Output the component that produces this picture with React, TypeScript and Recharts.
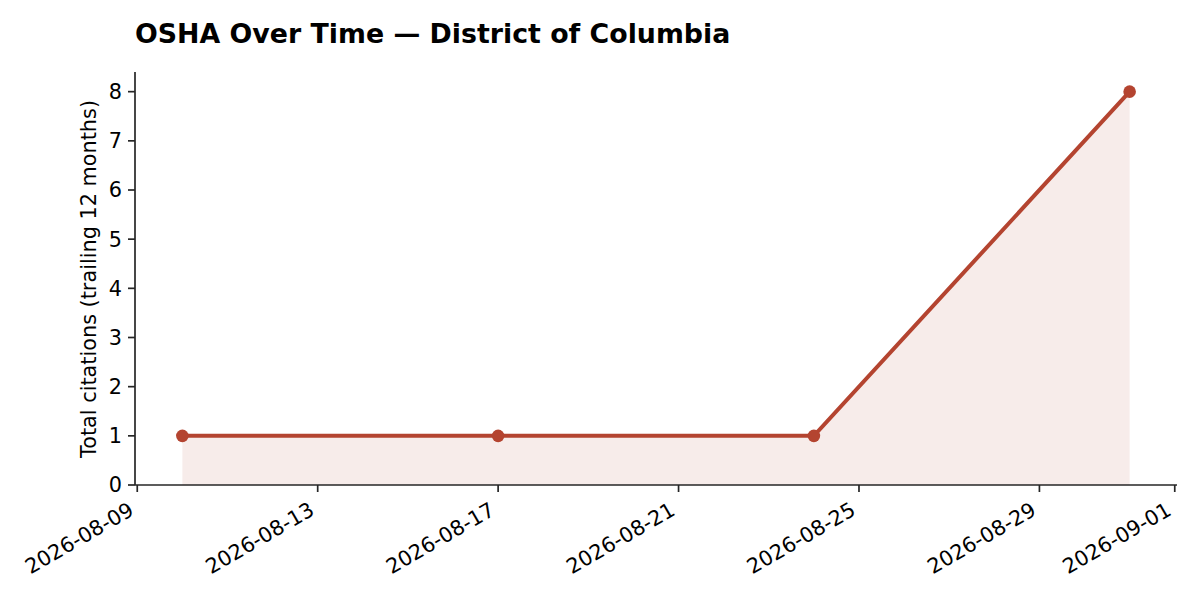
import { ComposedChart, Area, Line, XAxis, YAxis } from "recharts";

const dates = ["2026-08-10", "2026-08-17", "2026-08-24", "2026-08-31"];
const citations = [1, 1, 1, 8];
const xTickDates = [
  "2026-08-09",
  "2026-08-13",
  "2026-08-17",
  "2026-08-21",
  "2026-08-25",
  "2026-08-29",
  "2026-09-01",
];
const yTicks = [0, 1, 2, 3, 4, 5, 6, 7, 8];

const toTime = (d: string) => Date.parse(d + "T00:00:00Z");

const data = dates.map((d, i) => ({ t: toTime(d), value: citations[i] }));
const times = data.map((d) => d.t);
const span = Math.max(...times) - Math.min(...times);
const xDomain = [Math.min(...times) - span * 0.05, Math.max(...times) + span * 0.05];

const LINE = "#b44430";
const AXIS = "#262626";
const FONT = "DejaVu Sans, sans-serif";
const TICK_FONT = 20.8;

const fmt = (t: number) => new Date(t).toISOString().slice(0, 10);

function DateTick(props: any) {
  const { x, y, payload } = props;
  const ax = x - 2;
  const ay = y + 20;
  return (
    <text
      x={ax}
      y={ay}
      transform={`rotate(-30 ${ax} ${ay})`}
      textAnchor="end"
      fontSize={TICK_FONT}
      fontFamily={FONT}
      fill="#000"
    >
      {fmt(payload.value)}
    </text>
  );
}

export default function App() {
  return (
    <div
      style={{
        position: "absolute",
        left: 0,
        top: 0,
        width: 1200,
        height: 600,
        background: "#fff",
        fontFamily: FONT,
      }}
    >
      <div
        style={{
          position: "absolute",
          left: 135,
          top: 21,
          fontSize: 26.8,
          fontWeight: "bold",
          lineHeight: 1,
          color: "#000",
          whiteSpace: "nowrap",
        }}
      >
        OSHA Over Time — District of Columbia
      </div>
      <ComposedChart
        width={1200}
        height={600}
        data={data}
        margin={{ top: 72, right: 23, bottom: 0, left: 0 }}
      >
        <XAxis
          dataKey="t"
          type="number"
          scale="time"
          domain={xDomain}
          ticks={xTickDates.map(toTime)}
          interval={0}
          height={115}
          tickSize={7}
          tickLine={{ stroke: AXIS, strokeWidth: 1.7 }}
          axisLine={{ stroke: AXIS, strokeWidth: 1.7 }}
          tick={<DateTick />}
          allowDataOverflow
        />
        <YAxis
          type="number"
          domain={[0, 8.4]}
          ticks={yTicks}
          width={135}
          tickSize={7}
          tickMargin={6}
          tickLine={{ stroke: AXIS, strokeWidth: 1.7 }}
          axisLine={{ stroke: AXIS, strokeWidth: 1.7 }}
          tick={{ fontSize: TICK_FONT, fontFamily: FONT, fill: "#000" }}
          allowDataOverflow
          label={{
            content: () => (
              <text
                x={96}
                y={279}
                transform="rotate(-90 96 279)"
                textAnchor="middle"
                fontSize={TICK_FONT}
                fontFamily={FONT}
                fill="#000"
              >
                Total citations (trailing 12 months)
              </text>
            ),
          }}
        />
        <Area
          dataKey="value"
          type="linear"
          stroke={LINE}
          strokeOpacity={0.1}
          strokeWidth={1}
          fill={LINE}
          fillOpacity={0.1}
          isAnimationActive={false}
          dot={false}
          activeDot={false}
        />
        <Line
          dataKey="value"
          type="linear"
          stroke={LINE}
          strokeWidth={4}
          dot={{ r: 6.3, fill: LINE, stroke: LINE, strokeWidth: 0 }}
          activeDot={false}
          isAnimationActive={false}
        />
      </ComposedChart>
    </div>
  );
}
